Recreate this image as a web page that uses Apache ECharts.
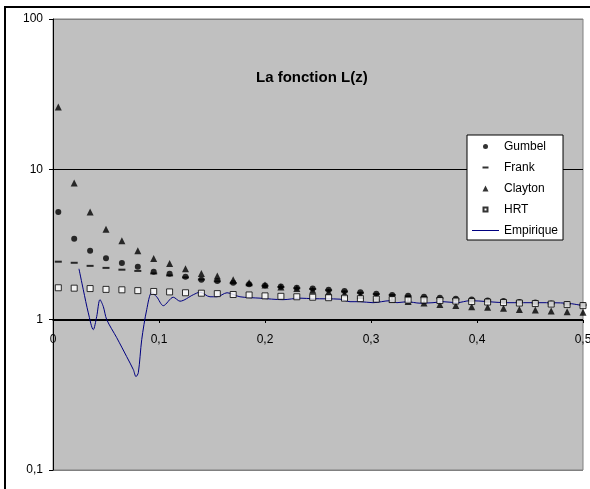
<!DOCTYPE html>
<html>
<head>
<meta charset="utf-8">
<script src="https://cdn.jsdelivr.net/npm/echarts@6/dist/echarts.min.js"></script>
<style>
html,body{margin:0;padding:0;background:#fff;}
#chart{width:590px;height:489px;}
</style>
</head>
<body>
<div id="chart"></div>
<script>
// ---- data ----
var zValues = [0.005,0.02,0.035,0.05,0.065,0.08,0.095,0.11,0.125,0.14,0.155,0.17,0.185,0.2,0.215,0.23,0.245,0.26,0.275,0.29,0.305,0.32,0.335,0.35,0.365,0.38,0.395,0.41,0.425,0.44,0.455,0.47,0.485,0.5];
var gumbel  = [5.2,3.45,2.87,2.56,2.38,2.25,2.08,2.02,1.93,1.84,1.81,1.76,1.72,1.69,1.66,1.63,1.61,1.58,1.55,1.52,1.49,1.46,1.44,1.42,1.40,1.38,1.36,1.34,1.33,1.31,1.30,1.28,1.27,1.25];
var frank   = [2.43,2.39,2.28,2.21,2.15,2.11,2.03,1.97,1.91,1.85,1.80,1.75,1.71,1.68,1.65,1.62,1.60,1.57,1.54,1.51,1.48,1.46,1.43,1.41,1.39,1.37,1.35,1.34,1.32,1.31,1.29,1.28,1.27,1.25];
var clayton = [26,8.1,5.2,4.0,3.35,2.87,2.55,2.36,2.18,2.03,1.95,1.84,1.76,1.70,1.65,1.61,1.57,1.53,1.49,1.45,1.41,1.36,1.32,1.29,1.26,1.24,1.22,1.21,1.19,1.17,1.16,1.14,1.13,1.12];
var hrt     = [1.63,1.62,1.61,1.59,1.58,1.56,1.54,1.53,1.51,1.50,1.49,1.47,1.46,1.44,1.43,1.42,1.41,1.40,1.39,1.38,1.37,1.36,1.35,1.35,1.34,1.33,1.32,1.31,1.30,1.29,1.28,1.27,1.26,1.24];
var empZ = [0.0245,0.0286,0.0333,0.038,0.0412,0.0443,0.0475,0.0507,0.0601,0.0695,0.0758,0.0783,0.0805,0.0837,0.0884,0.0931,0.0978,0.1041,0.1135,0.1198,0.1324,0.1387,0.1481,0.1547,0.1642,0.1764,0.1953,0.217,0.233,0.245,0.2708,0.2802,0.2896,0.3019,0.3179,0.3245,0.334,0.3462,0.3585,0.3679,0.3811,0.3934,0.4283,0.4594,0.4849,0.5];
var empL = [2.18,1.58,1.11,0.858,1.047,1.358,1.22,1.0,0.759,0.568,0.465,0.418,0.444,0.736,1.165,1.51,1.42,1.239,1.41,1.327,1.466,1.523,1.42,1.42,1.51,1.42,1.39,1.358,1.39,1.379,1.369,1.317,1.317,1.297,1.337,1.297,1.317,1.287,1.297,1.317,1.297,1.337,1.297,1.297,1.287,1.239];
var yTicks = [0.1, 1, 10, 100];
var xTicks = [0, 0.1, 0.2, 0.3, 0.4, 0.5];
var titleText = 'La fonction L(z)';
var names = ['Gumbel','Frank','Clayton','HRT','Empirique'];

function pairs(xs, ys){ return xs.map(function(x,i){ return [x, ys[i]]; }); }
function comma(v){ return String(v).replace('.', ','); }

// legend icons drawn in a 27x7 box (box corners fix the bounds)
var BOX = 'path://M0,0M27,7';
var legendIcons = {
  Gumbel: BOX + 'M16,3.5a2.5,2.5 0 1,0 -5,0a2.5,2.5 0 1,0 5,0z',
  Frank: BOX + 'M10.5,2.5h6v2h-6z',
  Clayton: BOX + 'M13.5,0.5L16.5,6.5L10.5,6.5z',
  HRT: BOX + 'M11.5,1.5h4v4h-4z',
  Empirique: BOX + 'M0,3h27v1h-27z'
};

var FONT = 'Liberation Sans, Arial, sans-serif';
var chart = echarts.init(document.getElementById('chart'), null, {renderer:'canvas'});
chart.setOption({
  animation: false,
  backgroundColor: '#ffffff',
  title: {
    text: titleText, left: 251, top: 65,
    textStyle: {fontFamily: FONT, fontSize: 15, fontWeight: 'bold', color: '#000'}
  },
  legend: {
    orient: 'vertical', left: 467, top: 135,
    data: names.map(function(n){ return {name: n, icon: legendIcons[n]}; }),
    backgroundColor: '#ffffff', borderColor: '#000', borderWidth: 1,
    padding: [5, 5, 3, 4],
    itemWidth: 27, itemHeight: 7, itemGap: 8,
    textStyle: {fontFamily: FONT, fontSize: 12, lineHeight: 13, color: '#000'}
  },
  graphic: [{
    type: 'rect', silent: true, z: 100,
    shape: {x: 5, y: 7, width: 700, height: 600},
    style: {fill: null, stroke: '#000', lineWidth: 2}
  }],
  grid: {
    left: 53, top: 19, right: 7, bottom: 19,
    outerBoundsMode: 'none', containLabel: false,
    show: true, backgroundColor: '#c0c0c0', borderColor: '#808080', borderWidth: 1
  },
  xAxis: {
    type: 'value', min: xTicks[0], max: xTicks[xTicks.length-1], interval: 0.1,
    position: 'bottom', offset: -150,
    axisLine: {onZero: false, lineStyle: {color: '#000', width: 1}},
    axisTick: {show: true, length: 3, lineStyle: {color: '#000'}},
    axisLabel: {margin: 14, fontFamily: FONT, fontSize: 12, color: '#000',
      formatter: function(v){ return comma(+v.toFixed(1)); }},
    splitLine: {show: false}
  },
  yAxis: {
    type: 'log', logBase: 10, min: yTicks[0], max: yTicks[yTicks.length-1],
    axisLine: {show: true, lineStyle: {color: '#000', width: 1}},
    axisTick: {show: true, length: 4, lineStyle: {color: '#000'}},
    axisLabel: {margin: 10, fontFamily: FONT, fontSize: 12, color: '#000',
      formatter: function(v){ return comma(v); }},
    minorTick: {show: false},
    splitLine: {show: true, lineStyle: {color: ['#808080','#000000','#000000','#808080'], width: 1}}
  },
  series: [
    {name: 'Empirique', type: 'line', data: pairs(empZ, empL), smooth: 0.3,
     symbol: 'none', showSymbol: false, lineStyle: {color: '#000080', width: 1}, itemStyle: {color: '#000080'}, z: 2},
    {name: 'Gumbel', type: 'scatter', data: pairs(zValues, gumbel), symbol: 'circle', symbolSize: 6,
     itemStyle: {color: '#000'}, z: 3},
    {name: 'Frank', type: 'scatter', data: pairs(zValues, frank), symbol: 'path://M0,0M7,7M0,2.5h7v2h-7z', symbolSize: 7,
     itemStyle: {color: '#000'}, z: 4},
    {name: 'Clayton', type: 'scatter', data: pairs(zValues, clayton), symbol: 'triangle', symbolSize: 7,
     itemStyle: {color: '#000'}, z: 5},
    {name: 'HRT', type: 'scatter', data: pairs(zValues, hrt), symbol: 'rect', symbolSize: 6,
     itemStyle: {color: '#fff', borderColor: '#000', borderWidth: 1}, z: 6}
  ]
});
</script>
</body>
</html>
